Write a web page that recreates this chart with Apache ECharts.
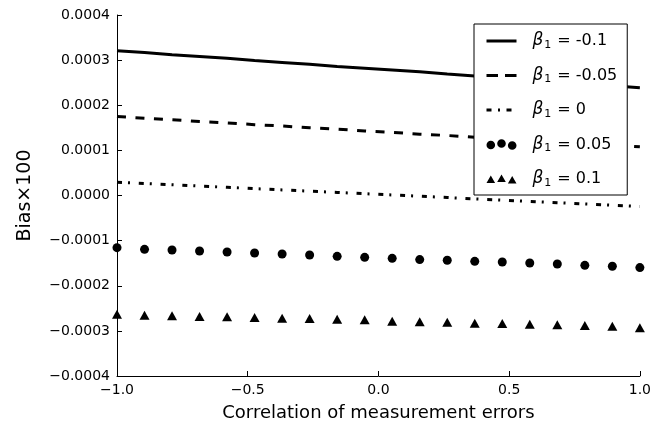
<!DOCTYPE html>
<html>
<head>
<meta charset="utf-8">
<script src="https://cdn.jsdelivr.net/npm/echarts@6/dist/echarts.min.js"></script>
<style>
  html, body { margin: 0; padding: 0; background: #fff; }
  #chart { width: 654px; height: 431px; }
</style>
</head>
<body>
<div id="chart"></div>
<script>
// correlation of measurement errors (x positions of the 20 points)
const rho = [-1, -0.8947, -0.7895, -0.6842, -0.5789, -0.4737, -0.3684, -0.2632, -0.1579, -0.0526,
  0.0526, 0.1579, 0.2632, 0.3684, 0.4737, 0.5789, 0.6842, 0.7895, 0.8947, 1]

const betas = ['-0.1', '-0.05', '0', '0.05', '0.1']

const biasM10 = [0.000321, 0.000317, 0.000312, 0.000308, 0.000304, 0.000299, 0.000295, 0.000291, 0.000286, 0.000282,
  0.000278, 0.000274, 0.000269, 0.000265, 0.000261, 0.000256, 0.000252, 0.000248, 0.000243, 0.000239]
const biasM05 = [0.000175, 0.000171, 0.000168, 0.000164, 0.000161, 0.000157, 0.000154, 0.000150, 0.000147, 0.000143,
  0.000140, 0.000136, 0.000133, 0.000129, 0.000126, 0.000122, 0.000119, 0.000115, 0.000112, 0.000108]
const bias0 = [0.0000294, 0.0000266, 0.0000238, 0.0000209, 0.0000181, 0.0000153, 0.0000124, 0.0000096, 0.0000068, 0.0000039,
  0.0000011, -0.0000017, -0.0000045, -0.0000074, -0.0000102, -0.000013, -0.0000159, -0.0000187, -0.0000215, -0.0000243]
const biasP05 = [-0.0001156, -0.0001193, -0.0001209, -0.0001231, -0.0001253, -0.0001275, -0.0001297, -0.0001319, -0.0001348, -0.000137,
  -0.0001392, -0.0001421, -0.0001436, -0.0001459, -0.0001474, -0.0001496, -0.0001518, -0.0001547, -0.0001569, -0.0001598]
const biasP10 = [-0.000263, -0.0002652, -0.0002667, -0.000268, -0.0002689, -0.0002703, -0.0002718, -0.0002725, -0.000274, -0.0002756,
  -0.0002785, -0.00028, -0.0002807, -0.0002829, -0.0002836, -0.0002851, -0.0002866, -0.000288, -0.0002895, -0.0002933]

const xTicks = { min: -1, max: 1, step: 0.5 }
const yTicks = { min: -0.0004, max: 0.0004, step: 0.0001 }

const font = 'DejaVu Sans'
const minus = s => s.replace('-', '\u2212')

function pairs(ys) {
  return rho.map((x, i) => [x, ys[i]])
}

const threeDots = 'path://M0,6a4.3,4.3 0 1,0 8.6,0a4.3,4.3 0 1,0 -8.6,0M10.7,4.5a4.3,4.3 0 1,0 8.6,0a4.3,4.3 0 1,0 -8.6,0M21.4,6.5a4.3,4.3 0 1,0 8.6,0a4.3,4.3 0 1,0 -8.6,0'
const threeTris = 'path://M0,10.5L4.3,3L8.6,10.5ZM10.7,9.5L15,2L19.3,9.5ZM21.4,11L25.7,3.5L30,11Z'
// hide the marker that line series put in the middle of their legend icon
const noMarker = { color: 'rgba(0,0,0,0)', borderWidth: 0 }

const chart = echarts.init(document.getElementById('chart'))
chart.setOption({
  animation: false,
  backgroundColor: '#fff',
  grid: { left: 117, right: 14, top: 15, bottom: 55 },
  xAxis: {
    type: 'value',
    min: xTicks.min, max: xTicks.max, interval: xTicks.step,
    name: 'Correlation of measurement errors',
    nameLocation: 'middle',
    nameGap: 28,
    nameTextStyle: { fontFamily: font, fontSize: 18, color: '#000' },
    axisLine: { onZero: false, lineStyle: { color: '#000', width: 1 } },
    axisTick: { inside: true, length: 5, lineStyle: { color: '#000' } },
    axisLabel: { fontFamily: font, fontSize: 14, color: '#000', margin: 7,
      formatter: v => minus(v.toFixed(1)) },
    splitLine: { show: false }
  },
  yAxis: {
    type: 'value',
    min: yTicks.min, max: yTicks.max, interval: yTicks.step,
    name: 'Bias\u00d7100',
    nameLocation: 'middle',
    nameGap: 82,
    nameTextStyle: { fontFamily: font, fontSize: 19, color: '#000' },
    axisLine: { show: true, onZero: false, lineStyle: { color: '#000', width: 1 } },
    axisTick: { inside: true, length: 5, lineStyle: { color: '#000' } },
    axisLabel: { fontFamily: font, fontSize: 14, color: '#000', margin: 7,
      formatter: v => minus(v.toFixed(4)) },
    splitLine: { show: false }
  },
  legend: {
    orient: 'vertical',
    left: 474, top: 24,
    padding: [7, 10, 6, 11],
    itemGap: 14.5,
    itemWidth: 30, itemHeight: 11,
    backgroundColor: '#fff',
    borderColor: '#000', borderWidth: 1,
    data: [
      { name: betas[0], itemStyle: noMarker, lineStyle: { width: 3 } },
      { name: betas[1], itemStyle: noMarker, lineStyle: { width: 3, type: [11.5, 7] } },
      { name: betas[2], itemStyle: noMarker, lineStyle: { width: 3, type: [5, 6.5, 2, 6.5] } },
      { name: betas[3], icon: threeDots },
      { name: betas[4], icon: threeTris }
    ],
    formatter: n => '{b|\u03b2}{s|1}{t|= ' + n + '}',
    textStyle: {
      color: '#000', fontFamily: font, fontSize: 16, lineHeight: 20,
      rich: {
        b: { fontFamily: font, fontStyle: 'italic', fontSize: 17, color: '#000', lineHeight: 20, padding: [0, 0, 0, 11] },
        s: { fontFamily: font, fontSize: 11, color: '#000', padding: [8, 6, 0, 1], lineHeight: 20 },
        t: { fontFamily: font, fontSize: 16, color: '#000', lineHeight: 20 }
      }
    }
  },
  series: [
    { name: betas[0], type: 'line', data: pairs(biasM10), symbol: 'none', z: 3,
      lineStyle: { color: '#000', width: 3 }, itemStyle: { color: '#000' } },
    { name: betas[1], type: 'line', data: pairs(biasM05), symbol: 'none', z: 3,
      lineStyle: { color: '#000', width: 3, type: [9, 9.5] }, itemStyle: { color: '#000' } },
    { name: betas[2], type: 'line', data: pairs(bias0), symbol: 'none', z: 3,
      lineStyle: { color: '#000', width: 3, type: [5, 6, 2, 8.8] }, itemStyle: { color: '#000' } },
    { name: betas[3], type: 'scatter', data: pairs(biasP05), symbol: 'circle', symbolSize: 9, z: 3,
      itemStyle: { color: '#000', opacity: 1 } },
    { name: betas[4], type: 'scatter', data: pairs(biasP10), symbol: 'triangle', symbolSize: [10, 9], z: 3,
      itemStyle: { color: '#000', opacity: 1 } }
  ]
})
</script>
</body>
</html>
